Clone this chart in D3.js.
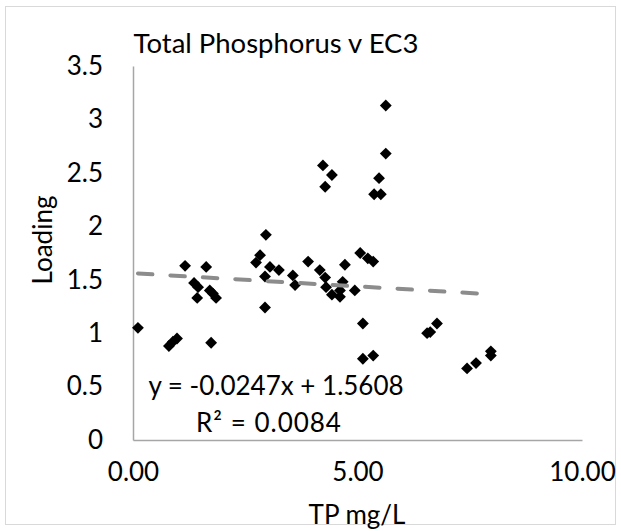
<!DOCTYPE html>
<html>
<head>
<meta charset="utf-8">
<script src="https://cdn.jsdelivr.net/npm/d3@7"></script>
<style>
  html, body { margin: 0; padding: 0; background: #ffffff; }
  svg { display: block; }
  text { font-family: Lato, "Open Sans", sans-serif; fill: #000; }
</style>
</head>
<body>
<div id="chart"></div>
<script>
// ---- data ----
const chartTitle = "Total Phosphorus v EC3";
const xAxisTitle = "TP mg/L";
const yAxisTitle = "Loading";
const xTickValues = [0, 5, 10];
const yTickValues = [0, 0.5, 1, 1.5, 2, 2.5, 3, 3.5];
const tpValues = [
  0.11, 0.80, 0.89, 0.98, 1.74, 1.16, 1.63, 1.36, 1.45, 1.43,
  1.71, 1.78, 1.85, 2.96, 2.83, 2.74, 3.05, 3.25, 2.94, 2.94,
  3.56, 3.61, 3.90, 4.16, 4.28, 4.30, 4.43, 4.61, 4.67, 4.61,
  4.72, 4.94, 4.23, 4.43, 4.28, 5.63, 5.63, 5.48, 5.37, 5.52,
  5.06, 5.23, 5.35, 5.12, 5.12, 5.35, 6.55, 6.62, 6.77, 7.44,
  7.64, 7.97, 7.97
];
const loadingValues = [
  1.05, 0.88, 0.92, 0.95, 0.91, 1.63, 1.62, 1.47, 1.43, 1.33,
  1.40, 1.37, 1.33, 1.92, 1.73, 1.66, 1.62, 1.59, 1.53, 1.24,
  1.54, 1.45, 1.67, 1.59, 1.52, 1.43, 1.36, 1.34, 1.48, 1.40,
  1.64, 1.40, 2.57, 2.48, 2.37, 3.13, 2.68, 2.45, 2.30, 2.30,
  1.75, 1.70, 1.67, 1.09, 0.76, 0.79, 1.00, 1.01, 1.09, 0.67,
  0.72, 0.83, 0.79
];
const trendSlope = -0.0247;
const trendIntercept = 1.5608;
const equationText = "y = -0.0247x + 1.5608";
const r2Text = "R\u00B2 = 0.0084";

// ---- layout ----
const W = 621, H = 531;
const svg = d3.select("#chart").append("svg").attr("width", W).attr("height", H);

svg.append("rect").attr("x", 5.5).attr("y", 6.5).attr("width", 610).attr("height", 518)
  .attr("fill", "#fff").attr("stroke", "#d9d9d9").attr("stroke-width", 1);

const x = d3.scaleLinear().domain([0, 10]).range([133, 582]);
const y = d3.scaleLinear().domain([0, 3.5]).range([440, 66]);

const fs = 26;

// x axis
const xAxis = svg.append("g").attr("transform", `translate(0,${y(0)})`)
  .call(d3.axisBottom(x).tickValues(xTickValues).tickFormat(d3.format(".2f")).tickSize(0).tickPadding(23));
xAxis.select(".domain").attr("stroke", "#a6a6a6").attr("stroke-width", 1.5);
xAxis.selectAll("text").attr("font-size", fs).attr("font-family", "Lato").attr("fill", "#000");

// y axis
const yAxis = svg.append("g").attr("transform", `translate(${x(0)},0)`)
  .call(d3.axisLeft(y).tickValues(yTickValues).tickFormat(d3.format("")).tickSize(0).tickPadding(30));
yAxis.select(".domain").attr("stroke", "#a6a6a6").attr("stroke-width", 1.5);
yAxis.selectAll("text").attr("font-size", fs).attr("font-family", "Lato").attr("fill", "#000");

// title
svg.append("text").attr("x", 276).attr("y", 53).attr("text-anchor", "middle")
  .attr("font-size", 27.5).text(chartTitle);

// axis titles
svg.append("text").attr("x", 357).attr("y", 524).attr("text-anchor", "middle")
  .attr("font-size", fs).text(xAxisTitle);
svg.append("text").attr("transform", "translate(52,240) rotate(-90)").attr("text-anchor", "middle")
  .attr("font-size", fs).text(yAxisTitle);

// points
const pts = tpValues.map((v, i) => ({ x: v, y: loadingValues[i] }));
svg.append("g").selectAll("path").data(pts).enter().append("path")
  .attr("d", d3.symbol().type(d3.symbolSquare).size(70))
  .attr("transform", d => `translate(${x(d.x)},${y(d.y)}) rotate(45)`)
  .attr("fill", "#000");

// trendline
const xMin = d3.min(tpValues), xMax = d3.max(tpValues);
svg.append("line")
  .attr("x1", x(xMin)).attr("y1", y(trendSlope * xMin + trendIntercept))
  .attr("x2", x(xMax)).attr("y2", y(trendSlope * xMax + trendIntercept))
  .attr("stroke", "#8c8c8c").attr("stroke-width", 4)
  .attr("stroke-dasharray", "14.5 18").attr("stroke-linecap", "round");

// equation
svg.append("text").attr("x", 276).attr("y", 395).attr("text-anchor", "middle")
  .attr("font-size", fs).text(equationText);
svg.append("text").attr("x", 269).attr("y", 432).attr("text-anchor", "middle")
  .attr("font-size", fs).attr("letter-spacing", 1).text(r2Text);
</script>
</body>
</html>
